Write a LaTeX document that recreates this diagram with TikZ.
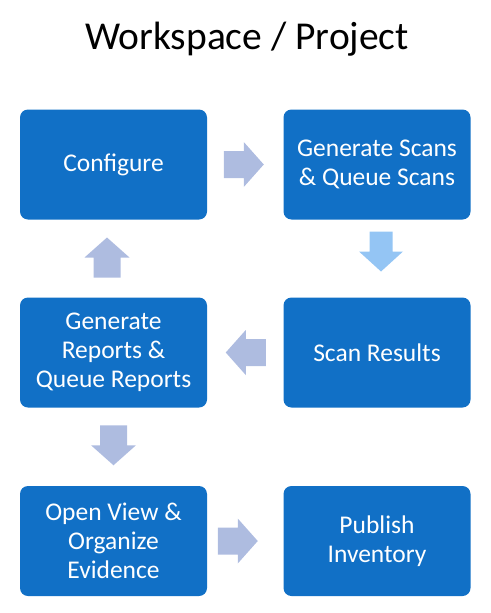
\documentclass[tikz,border=0pt]{standalone}
\usepackage{fontspec}
\setmainfont{Carlito}
\usetikzlibrary{calc}
\definecolor{boxblue}{HTML}{1170C6}
\definecolor{arrgray}{HTML}{AEBCE0}
\definecolor{arrlight}{HTML}{94C5F4}
\tikzset{
  stepbox/.style={fill=boxblue, rounded corners=8pt, minimum width=187pt, minimum height=110pt,
    text=white, align=center, inner sep=0pt, font=\fontsize{25.5}{29}\selectfont},
  blockarrow/.pic={\fill[pic actions] (-20,-13.5) -- (0,-13.5) -- (0,-22.5) -- (20,0) -- (0,22.5) -- (0,13.5) -- (-20,13.5) -- cycle;},
  thinarrow/.pic={\fill[pic actions] (-20,-11.5) -- (0,-11.5) -- (0,-22) -- (20,0) -- (0,22) -- (0,11.5) -- (-20,11.5) -- cycle;}
}
\begin{document}
\begin{tikzpicture}[x=1pt,y=-1pt]
\useasboundingbox (0,0) rectangle (490,613);
\node[font=\fontsize{39.5}{44}\selectfont, anchor=base] (title) at (247,49) {Workspace / Project};
\node[stepbox] (conf) at (113.5,164.5) {Configure};
\node[stepbox] (gen) at (377,164.5) {Generate Scans\\\& Queue Scans};
\node[stepbox] (rep) at (113.5,352.5) {Generate\\Reports \&\\Queue Reports};
\node[stepbox] (res) at (377,352.5) {Scan Results};
\node[stepbox] (open) at (113.5,541) {Open View \&\\Organize\\Evidence};
\node[stepbox] (pub) at (377,541) {Publish\\Inventory};
\pic[fill=arrgray] at ($(conf.east)!0.5!(gen.west)+(-1.5,0)$) {blockarrow};
\pic[fill=arrlight, rotate=-90] at ($(gen.south)!0.5!(res.north)+(4,-7)$) {thinarrow};
\pic[fill=arrgray, rotate=180] at ($(rep.east)!0.5!(res.west)+(0.5,0)$) {blockarrow};
\pic[fill=arrgray, rotate=90] at ($(rep.north)!0.5!(conf.south)+(-6.5,-1)$) {blockarrow};
\pic[fill=arrgray, rotate=-90] at ($(rep.south)!0.5!(open.north)+(0,-1.5)$) {blockarrow};
\pic[fill=arrgray] at ($(open.east)!0.5!(pub.west)+(-7.5,0)$) {blockarrow};
\end{tikzpicture}
\end{document}
